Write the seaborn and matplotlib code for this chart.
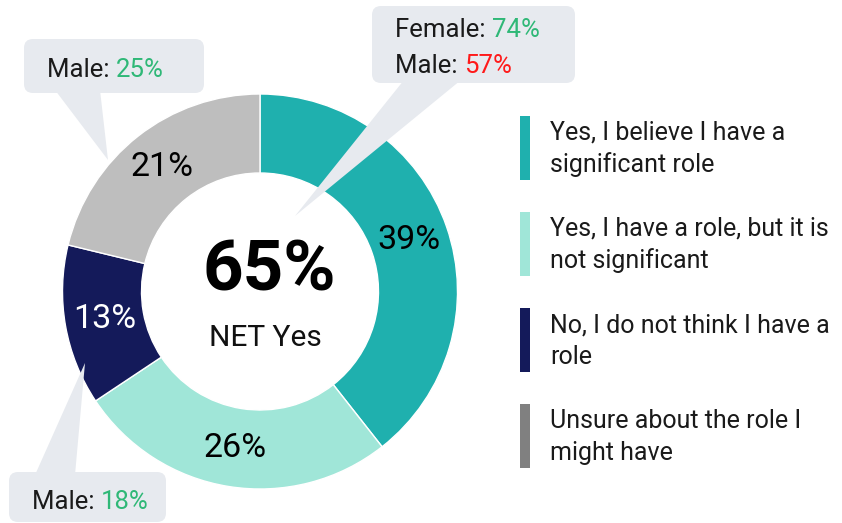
import matplotlib
matplotlib.use('Agg')
import matplotlib.pyplot as plt
from matplotlib.patches import FancyBboxPatch, Polygon, Rectangle
import seaborn as sns

# --- data ---
categories = ['Yes, I believe I have a\nsignificant role',
              'Yes, I have a role, but it is\nnot significant',
              'No, I do not think I have a\nrole',
              'Unsure about the role I\nmight have']
shares = [39, 26, 13, 21]
net_yes = 65
slice_colors = ['#1fb0ae', '#a0e6d8', '#141a5a', '#bebebe']
legend_colors = ['#1fb0ae', '#a0e6d8', '#141a5a', '#808080']
label_colors = ['black', 'black', 'white', 'black']

# callouts: (lines of (prefix, value, colour))
GREEN = '#2fb877'
RED = '#ff1a1a'
callout_yes = [('Female: ', '74%', GREEN), ('Male: ', '57%', RED)]
callout_unsure = [('Male: ', '25%', GREEN)]
callout_no = [('Male: ', '18%', GREEN)]

sns.set_theme(style='white')
plt.rcParams['font.family'] = ['Roboto', 'DejaVu Sans']

W, H = 842, 523
fig = plt.figure(figsize=(W / 100, H / 100), dpi=100)

# donut
cx, cy, R = 260, 291.5, 200
ax = fig.add_axes([(cx - R) / W, (H - cy - R) / H, 2 * R / W, 2 * R / H])
wedges, texts = ax.pie(shares, radius=0.9875, startangle=90, counterclock=False,
                       colors=slice_colors, labels=[f'{v}%' for v in shares],
                       labeldistance=0.8,
                       wedgeprops=dict(width=0.395, edgecolor='white', linewidth=1))
for t, c in zip(texts, label_colors):
    t.set_ha('center')
    t.set_va('center')
    t.set_color(c)
    t.set_fontsize(24.5)
    t.set_fontweight('normal')
ax.set_xlim(-1, 1)
ax.set_ylim(-1, 1)
ax.set_aspect('equal')
ax.axis('off')

# overlay in pixel coordinates
ov = fig.add_axes([0, 0, 1, 1], zorder=5)
ov.set_xlim(0, W)
ov.set_ylim(H, 0)
ov.axis('off')
ov.patch.set_alpha(0)

ov.text(269, 271, f'{net_yes}%', ha='center', va='center', fontsize=51,
        fontweight='bold', color='black')
ov.text(265, 338, 'NET Yes', ha='center', va='center', fontsize=21.5, color='#111111')

BOX = '#e7eaef'


def callout(box, tip, base, lines, x0, y0, dy):
    bx, by, bw, bh = box
    ov.add_patch(Polygon([base[0], base[1], tip], closed=True, facecolor=BOX,
                         edgecolor='none', zorder=1))
    ov.add_patch(FancyBboxPatch((bx, by), bw, bh,
                                boxstyle='round,pad=0,rounding_size=9',
                                facecolor=BOX, edgecolor='none', zorder=2))
    for i, (pre, val, col) in enumerate(lines):
        t = ov.text(x0, y0 + i * dy, pre, ha='left', va='baseline',
                    fontsize=18.5, color='#1a1a1a', zorder=3)
        ov.annotate(val, xy=(1, 0), xycoords=t, ha='left', va='bottom',
                    fontsize=18.5, color=col, zorder=3)


callout((372, 6, 203, 77), (295, 216), [(404, 80), (461, 80)],
        callout_yes, 395, 37, 36)
callout((24, 39, 180, 54), (108, 160), [(55, 90), (100, 90)],
        callout_unsure, 47, 77, 36)
callout((9, 472, 157, 50), (85, 363), [(35, 475), (75, 475)],
        callout_no, 32, 509, 36)

# legend
for i, (lab, col) in enumerate(zip(categories, legend_colors)):
    top = 116 + i * 96
    ov.add_patch(Rectangle((520, top), 10, 64, facecolor=col, edgecolor='none'))
    ov.text(550, top + 33, lab, ha='left', va='center', fontsize=18,
            color='#1a1a1a', linespacing=1.4)

fig.savefig('out.png', dpi=100)
